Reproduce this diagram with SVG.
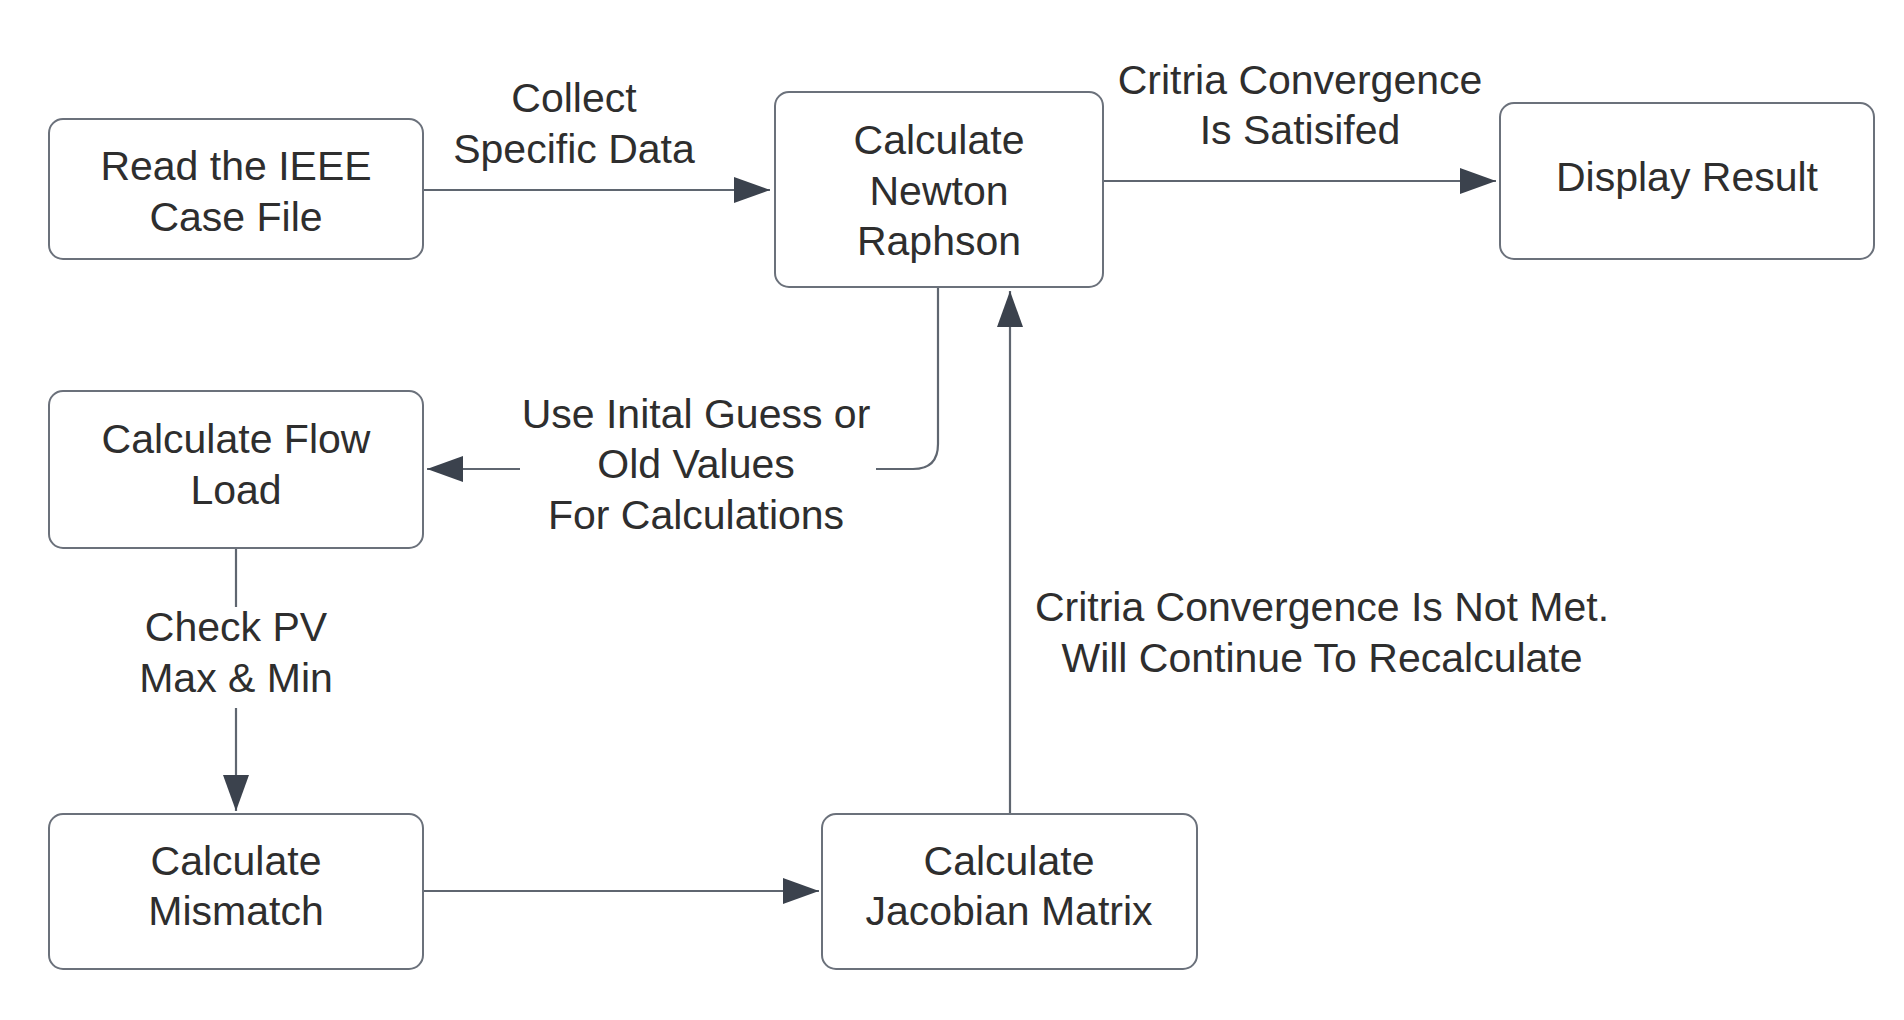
<svg xmlns="http://www.w3.org/2000/svg" width="1904" height="1020" viewBox="0 0 1904 1020">
<style>
.box{fill:#ffffff;stroke:#6b717b;stroke-width:2}
.t{font-family:"Liberation Sans",Arial,sans-serif;font-size:41px;fill:#2e2e2e;text-anchor:middle}
.ln{fill:none;stroke:#5f6670;stroke-width:2.2}
</style>
<defs>
<marker id="ah" markerWidth="36" markerHeight="26" refX="36" refY="13" orient="auto" markerUnits="userSpaceOnUse">
<path d="M0,0 L36,13 L0,26 Z" fill="#3b424d"/>
</marker>
</defs>
<rect width="1904" height="1020" fill="#ffffff"/>
<g id="connectors">
<path class="ln" d="M423,190 H770" marker-end="url(#ah)"/>
<path class="ln" d="M1103,181 H1496" marker-end="url(#ah)"/>
<path class="ln" d="M938,287 V444 Q938,469 913,469 H876"/>
<path class="ln" d="M520,469 H427" marker-end="url(#ah)"/>
<path class="ln" d="M236,548 V607"/>
<path class="ln" d="M236,708 V811" marker-end="url(#ah)"/>
<path class="ln" d="M423,891 H819" marker-end="url(#ah)"/>
<path class="ln" d="M1010,814 V291" marker-end="url(#ah)"/>
<text class="t" x="574" y="112">Collect</text>
<text class="t" x="574" y="163">Specific Data</text>
<text class="t" x="1300" y="94">Critria Convergence</text>
<text class="t" x="1300" y="144">Is Satisifed</text>
<text class="t" x="696" y="428">Use Inital Guess or</text>
<text class="t" x="696" y="478">Old Values</text>
<text class="t" x="696" y="529">For Calculations</text>
<text class="t" x="236" y="641">Check PV</text>
<text class="t" x="236" y="692">Max &amp; Min</text>
<text class="t" x="1322" y="621">Critria Convergence Is Not Met.</text>
<text class="t" x="1322" y="672">Will Continue To Recalculate</text>
</g>
<g id="read-ieee">
<rect class="box" x="49" y="119" width="374" height="140" rx="14"/>
<text class="t" x="236" y="180">Read the IEEE</text>
<text class="t" x="236" y="231">Case File</text>
</g>
<g id="newton-raphson">
<rect class="box" x="775" y="92" width="328" height="195" rx="14"/>
<text class="t" x="939" y="154">Calculate</text>
<text class="t" x="939" y="205">Newton</text>
<text class="t" x="939" y="255">Raphson</text>
</g>
<g id="display-result">
<rect class="box" x="1500" y="103" width="374" height="156" rx="14"/>
<text class="t" x="1687" y="191">Display Result</text>
</g>
<g id="flow-load">
<rect class="box" x="49" y="391" width="374" height="157" rx="14"/>
<text class="t" x="236" y="453">Calculate Flow</text>
<text class="t" x="236" y="504">Load</text>
</g>
<g id="mismatch">
<rect class="box" x="49" y="814" width="374" height="155" rx="14"/>
<text class="t" x="236" y="875">Calculate</text>
<text class="t" x="236" y="925">Mismatch</text>
</g>
<g id="jacobian">
<rect class="box" x="822" y="814" width="375" height="155" rx="14"/>
<text class="t" x="1009" y="875">Calculate</text>
<text class="t" x="1009" y="925">Jacobian Matrix</text>
</g>
</svg>
